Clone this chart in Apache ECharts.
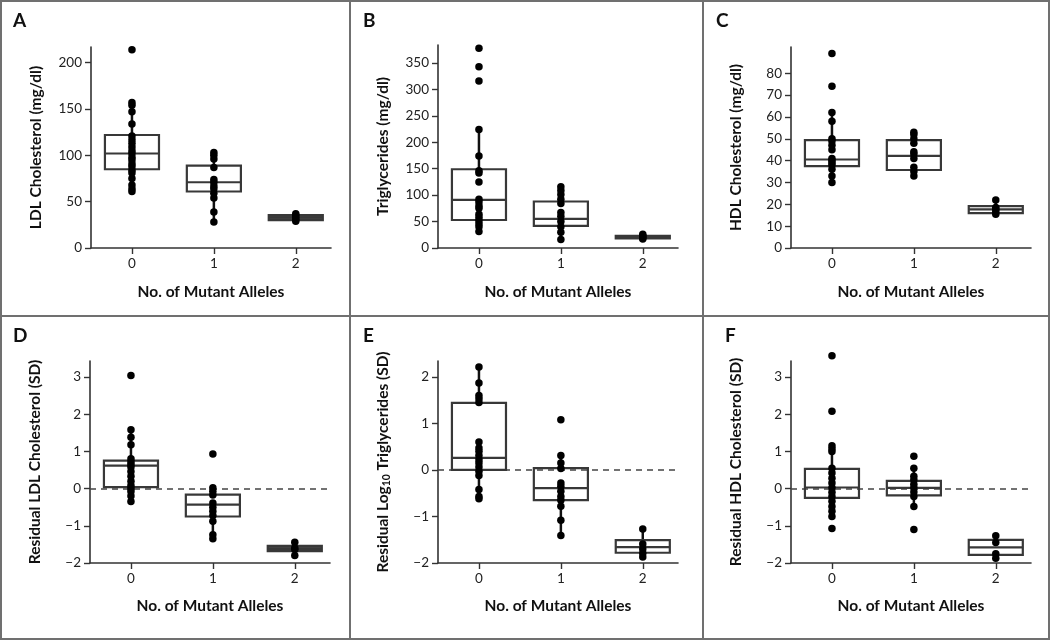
<!DOCTYPE html>
<html><head><meta charset="utf-8">
<script src="https://cdn.jsdelivr.net/npm/echarts@6/dist/echarts.min.js"></script>
<style>html,body{margin:0;padding:0;background:#fff}#c{width:1050px;height:640px}</style>
</head><body><div id="c"></div><script>
// ---- categories / ticks ----
const categories = [0, 1, 2];
const xAxisName = 'No. of Mutant Alleles';

// ---- Panel A: LDL cholesterol (mg/dl) ----
const ldl0 = [214, 157, 154, 147, 134, 121, 117, 113, 109, 105, 102, 98, 95, 91, 88, 84, 81, 75, 68, 64, 61];
const ldl1 = [103, 100, 96, 87, 74, 71, 67, 64, 59, 54, 39, 28];
const ldl2 = [37, 35, 33, 31, 29];
const ldlBox = [[61, 85, 102, 122, 157], [28, 61, 71, 89, 103], [29, 30, 33, 35.5, 37]]; // low, q1, median, q3, high
const ldlTicks = [0, 50, 100, 150, 200];

// ---- Panel B: Triglycerides (mg/dl) ----
const tg0 = [378, 343, 316, 224, 174, 146, 142, 125, 92, 87, 80, 75, 64, 58, 52, 46, 40, 31];
const tg1 = [116, 109, 101, 92, 84, 67, 60, 50, 40, 30, 16];
const tg2 = [26, 23, 21, 19, 17];
const tgBox = [[31, 53, 91, 149, 224], [16, 42, 55, 88, 116], [17, 18, 20, 23, 26]];
const tgTicks = [0, 50, 100, 150, 200, 250, 300, 350];

// ---- Panel C: HDL cholesterol (mg/dl) ----
const hdl0 = [89, 74, 62, 58, 50, 49, 47, 45, 41, 40, 39, 38, 36, 33, 30];
const hdl1 = [53, 52, 50, 48, 44, 43, 41, 37, 35, 33];
const hdl2 = [22, 18.5, 17.7, 16.6, 15.5];
const hdlBox = [[30, 37.5, 40.5, 49.4, 62], [33, 35.7, 42.2, 49.4, 53], [15.5, 16, 17.7, 19.2, 22]];
const hdlTicks = [0, 10, 20, 30, 40, 50, 60, 70, 80];

// ---- Panel D: residual LDL (SD) ----
const rldl0 = [3.04, 1.58, 1.38, 1.18, 0.8, 0.72, 0.65, 0.58, 0.46, 0.33, 0.2, 0.08, 0.0, -0.08, -0.2, -0.35];
const rldl1 = [0.93, 0.02, -0.07, -0.17, -0.39, -0.5, -0.61, -0.72, -0.88, -1.24, -1.35];
const rldl2 = [-1.44, -1.6, -1.64, -1.8];
const rldlBox = [[-0.35, 0.04, 0.62, 0.75, 1.58], [-1.35, -0.75, -0.43, -0.16, 0.02], [-1.8, -1.68, -1.62, -1.54, -1.44]];
const rldlTicks = [-2, -1, 0, 1, 2, 3];

// ---- Panel E: residual log10 TG (SD) ----
const rtg0 = [2.21, 1.87, 1.6, 1.53, 1.45, 0.6, 0.47, 0.4, 0.31, 0.22, 0.15, 0.06, -0.03, -0.12, -0.42, -0.57, -0.62];
const rtg1 = [1.08, 0.31, 0.15, 0.03, -0.28, -0.35, -0.46, -0.57, -0.65, -0.78, -1.08, -1.41];
const rtg2 = [-1.27, -1.59, -1.7, -1.79, -1.87];
const rtgBox = [[-0.62, 0, 0.26, 1.44, 2.21], [-1.41, -0.65, -0.39, 0.04, 0.31], [-1.87, -1.78, -1.66, -1.51, -1.27]];
const rtgTicks = [-2, -1, 0, 1, 2];

// ---- Panel F: residual HDL (SD) ----
const rhdl0 = [3.57, 2.08, 1.15, 1.07, 1.0, 0.55, 0.42, 0.28, 0.15, 0.02, -0.1, -0.21, -0.34, -0.48, -0.61, -0.75, -1.07];
const rhdl1 = [0.87, 0.55, 0.33, 0.24, 0.12, 0.02, -0.09, -0.21, -0.48, -1.1];
const rhdl2 = [-1.27, -1.45, -1.75, -1.87];
const rhdlBox = [[-0.75, -0.25, 0.03, 0.53, 1.15], [-0.48, -0.18, 0.02, 0.21, 0.55], [-1.87, -1.78, -1.58, -1.38, -1.27]];
const rhdlTicks = [-2, -1, 0, 1, 2, 3];

const panels = [
  {letter: 'A', name: 'LDL Cholesterol (mg/dl)', pts: [ldl0, ldl1, ldl2], box: ldlBox, ticks: ldlTicks, min: 0, max: 217,
   grid: {left: 91, top: 47, width: 240, height: 201}, lx: 13, ly: 11, zero: false},
  {letter: 'B', name: 'Triglycerides (mg/dl)', pts: [tg0, tg1, tg2], box: tgBox, ticks: tgTicks, min: 0, max: 384,
   grid: {left: 438, top: 45, width: 240, height: 203}, lx: 363, ly: 11, zero: false},
  {letter: 'C', name: 'HDL Cholesterol (mg/dl)', pts: [hdl0, hdl1, hdl2], box: hdlBox, ticks: hdlTicks, min: 0, max: 92,
   grid: {left: 791, top: 47, width: 240, height: 201}, lx: 716, ly: 11, zero: false},
  {letter: 'D', name: 'Residual LDL Cholesterol (SD)', pts: [rldl0, rldl1, rldl2], box: rldlBox, ticks: rldlTicks, min: -2, max: 3.43,
   grid: {left: 90, top: 361, width: 240, height: 202}, lx: 13, ly: 326, zero: true},
  {letter: 'E', name: 'Residual Log{sub|10} Triglycerides (SD)', pts: [rtg0, rtg1, rtg2], box: rtgBox, ticks: rtgTicks, min: -2, max: 2.34,
   grid: {left: 438, top: 361, width: 240, height: 202}, lx: 363, ly: 326, zero: true},
  {letter: 'F', name: 'Residual HDL Cholesterol (SD)', pts: [rhdl0, rhdl1, rhdl2], box: rhdlBox, ticks: rhdlTicks, min: -2, max: 3.43,
   grid: {left: 791, top: 361, width: 240, height: 202}, lx: 725, ly: 326, zero: true}
];

const FONT = 'Lato';
const AXC = '#333';

function renderBox(params, api) {
  const x = api.value(0);
  const lo = api.coord([x, api.value(1)]);
  const q1 = api.coord([x, api.value(2)]);
  const md = api.coord([x, api.value(3)]);
  const q3 = api.coord([x, api.value(4)]);
  const hi = api.coord([x, api.value(5)]);
  const hw = api.size([1, 0])[0] * 0.33;
  const cx = lo[0];
  const h = q1[1] - q3[1];
  return {type: 'group', children: [
    {type: 'line', shape: {x1: cx, y1: lo[1], x2: cx, y2: q1[1]}, style: {stroke: '#111', lineWidth: 2.5}},
    {type: 'line', shape: {x1: cx, y1: q3[1], x2: cx, y2: hi[1]}, style: {stroke: '#111', lineWidth: 2.5}},
    {type: 'rect', shape: {x: cx - hw, y: q3[1], width: 2 * hw, height: h},
     style: {fill: h < 6 ? '#444' : 'none', stroke: '#383838', lineWidth: 2.2}},
    {type: 'line', shape: {x1: cx - hw, y1: md[1], x2: cx + hw, y2: md[1]}, style: {stroke: '#383838', lineWidth: 2.2}}
  ]};
}

const grids = [], xAxes = [], yAxes = [], series = [], graphics = [];
const minus = v => String(v).replace('-', '\u2212');

panels.forEach((p, i) => {
  grids.push(Object.assign({containLabel: false}, p.grid));
  const row2 = i >= 3;
  xAxes.push({
    type: 'value', gridIndex: i, min: -0.5, max: 2.43,
    name: xAxisName, nameLocation: 'middle', nameGap: row2 ? 35 : 36,
    nameTextStyle: {fontFamily: FONT, fontWeight: 'bold', fontSize: 15.5, color: '#111'},
    axisLine: {show: true, onZero: false, lineStyle: {color: AXC, width: 1.6}},
    axisTick: {show: true, length: 6, customValues: categories, lineStyle: {color: AXC, width: 1.4}},
    axisLabel: {customValues: categories, fontFamily: FONT, fontSize: 13.5, color: '#222', margin: 9},
    splitLine: {show: false}
  });
  yAxes.push({
    type: 'value', gridIndex: i, min: p.min, max: p.max,
    name: p.name, nameLocation: 'middle', nameGap: 46, nameRotate: 90,
    nameTextStyle: {fontFamily: FONT, fontWeight: 'bold', fontSize: 15.5, color: '#111', lineHeight: 19,
      rich: {sub: {fontFamily: FONT, fontWeight: 'bold', fontSize: 10.5, color: '#111', lineHeight: 10, verticalAlign: 'bottom'}}},
    axisLine: {show: true, onZero: false, lineStyle: {color: AXC, width: 1.6}},
    axisTick: {show: true, length: 6, customValues: p.ticks, lineStyle: {color: AXC, width: 1.4}},
    axisLabel: {customValues: p.ticks, fontFamily: FONT, fontSize: 13.5, color: '#222', margin: 9, formatter: minus},
    splitLine: {show: false}
  });
  const boxSeries = {
    type: 'custom', xAxisIndex: i, yAxisIndex: i, clip: false, z: 2,
    renderItem: renderBox,
    encode: {x: 0, y: [1, 2, 3, 4, 5]},
    data: p.box.map((b, k) => [categories[k]].concat(b)),
    silent: true
  };
  if (p.zero) {
    boxSeries.markLine = {
      silent: true, symbol: 'none', label: {show: false}, z: 1,
      lineStyle: {color: '#444', width: 1.5, type: [6, 5]},
      data: [{yAxis: 0}]
    };
  }
  series.push(boxSeries);
  const pts = [];
  p.pts.forEach((arr, k) => arr.forEach(v => pts.push([categories[k], v])));
  series.push({
    type: 'scatter', xAxisIndex: i, yAxisIndex: i, clip: false, z: 5,
    symbol: 'circle', symbolSize: 7.5, itemStyle: {color: '#000', opacity: 1},
    data: pts, silent: true
  });
  graphics.push({type: 'text', left: p.lx, top: p.ly, style: {text: p.letter, font: 'bold 19px ' + FONT, fill: '#111'}});
});

// panel frames
const frameStyle = {stroke: '#707070', lineWidth: 2, fill: 'none'};
graphics.push({type: 'rect', shape: {x: 1, y: 1, width: 1048, height: 638}, style: frameStyle, silent: true});
graphics.push({type: 'line', shape: {x1: 350, y1: 0, x2: 350, y2: 640}, style: frameStyle, silent: true});
graphics.push({type: 'line', shape: {x1: 703, y1: 0, x2: 703, y2: 640}, style: frameStyle, silent: true});
graphics.push({type: 'line', shape: {x1: 0, y1: 316, x2: 1050, y2: 316}, style: frameStyle, silent: true});

const chart = echarts.init(document.getElementById('c'), null, {renderer: 'canvas'});
chart.setOption({
  animation: false,
  backgroundColor: '#fff',
  grid: grids, xAxis: xAxes, yAxis: yAxes, series: series,
  graphic: graphics
});
</script></body></html>
